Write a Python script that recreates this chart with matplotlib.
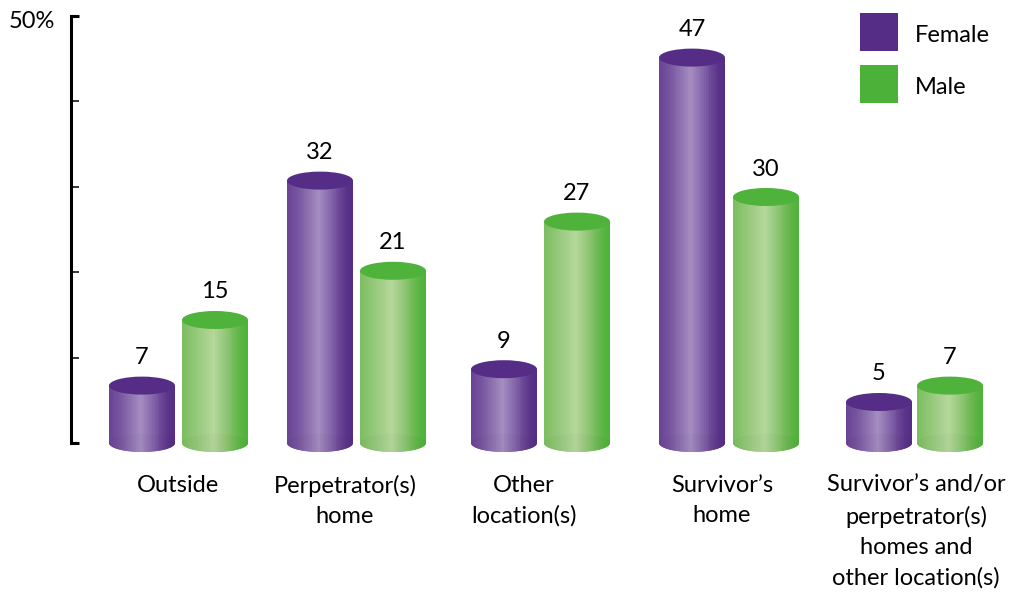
"""Female/male cylinder bars by location."""
import matplotlib
matplotlib.use("Agg")
import matplotlib.pyplot as plt
import numpy as np
from matplotlib.colors import to_rgb
from matplotlib.patches import Ellipse, PathPatch, Rectangle
from matplotlib.path import Path

plt.rcParams["font.family"] = ["Lato", "DejaVu Sans"]

categories = [
    "Outside",
    "Perpetrator(s)\nhome",
    "Other\nlocation(s)",
    "Survivor\u2019s\nhome",
    "Survivor\u2019s and/or\nperpetrator(s)\nhomes and\nother location(s)",
]
female = [7, 32, 9, 47, 5]
male = [15, 21, 27, 30, 7]
series_names = ["Female", "Male"]

# layout, in reference pixels
_W, _H = 1009, 594
_BASE_Y = 443
_PX_PER_UNIT = 8.2
_BAR_W = 66
_ELL_H = 18
_FEMALE_X = [142, 320, 504, 692, 879]
_MALE_X = [215, 393, 577, 766, 950]
_LABEL_X = [178, 345, 524, 722, 916]
_AXIS_TOP = (_BASE_Y - 16) / _PX_PER_UNIT  # axis is not quite in step with the bars

_PURPLE = "#552d86"
_GREEN = "#4fb23a"
_LEGEND_GREEN = "#4bb138"
_STOPS = [0, 0.12, 0.3, 0.48, 0.62, 0.8, 0.92, 1]
_PURPLE_RAMP = ["#6b4496", "#75529d", "#8a6dae", "#a68ec1", "#8c70b0", "#6d4897", "#5a3389", "#552d86"]
_GREEN_RAMP = ["#7dbe60", "#8cc571", "#a0cd86", "#b6d89c", "#9acb80", "#74bb58", "#58b542", "#4fb23a"]


def _py(y):
    """reference pixel row -> data value"""
    return (_BASE_Y - y) / _PX_PER_UNIT


def _ramp(colors, n=34, darken=1.0):
    rgb = np.array([to_rgb(c) for c in colors])
    t = np.linspace(0, 1, n)
    out = np.stack([np.interp(t, _STOPS, rgb[:, i]) for i in range(3)], axis=-1)
    return (out * darken)[np.newaxis, :, :]


def _cylinder(ax, x, value, ramp, top_color):
    left, right = x - _BAR_W / 2, x + _BAR_W / 2
    ell_h = _ELL_H / _PX_PER_UNIT
    # body outline: straight sides, rounded bottom
    theta = np.linspace(np.pi, 2 * np.pi, 40)
    bx = x + _BAR_W / 2 * np.cos(theta)
    by = ell_h / 2 * np.sin(theta)
    verts = np.column_stack([
        np.r_[left, bx, right, left],
        np.r_[value, by, value, value],
    ])
    clip = PathPatch(Path(verts), transform=ax.transData, fc="none", ec="none")
    ax.add_patch(clip)
    im = ax.imshow(_ramp(ramp), extent=(left, right, -ell_h, value), aspect="auto",
                   interpolation="nearest", zorder=2)
    im.set_clip_path(clip)

    # faint base disc seen through the cylinder
    base = Ellipse((x, 0), _BAR_W, ell_h, fc="none", ec="none")
    ax.add_patch(base)
    im2 = ax.imshow(_ramp(ramp, darken=0.975), extent=(left, right, -ell_h, ell_h),
                    aspect="auto", interpolation="nearest", zorder=2.1)
    im2.set_clip_path(base)

    ax.add_patch(Ellipse((x, value), _BAR_W, ell_h, fc=top_color, ec="none", zorder=3))
    ax.annotate(str(value), (x, value), xytext=(0, 28), textcoords="offset pixels",
                ha="center", va="center", fontsize=17, color="black", zorder=4)


def main():
    fig = plt.figure(figsize=(_W / 100, _H / 100), dpi=100)
    ax = fig.add_axes([0, 0, 1, 1])

    for x, v in zip(_FEMALE_X, female):
        _cylinder(ax, x, v, _PURPLE_RAMP, _PURPLE)
    for x, v in zip(_MALE_X, male):
        _cylinder(ax, x, v, _GREEN_RAMP, _GREEN)

    ax.set_xlim(0, _W)
    ax.set_ylim(_py(_H), _py(0))

    # y axis
    for side in ("top", "right", "bottom"):
        ax.spines[side].set_visible(False)
    ax.spines["left"].set_position(("data", 71))
    ax.spines["left"].set_bounds(0, _AXIS_TOP)
    ax.spines["left"].set_linewidth(2.2)
    ax.set_xticks([])
    ticks = np.linspace(0, _AXIS_TOP, 6)
    ax.set_yticks(ticks)
    ax.set_yticklabels([])
    ax.tick_params(axis="y", direction="in", length=6, width=1.1)
    for i in (0, 5):
        ax.yaxis.get_major_ticks()[i].tick1line.set_markeredgewidth(2.2)
    ax.text(32, _py(22), "50%", ha="center", va="center", fontsize=17, color="black")

    # category labels
    for x, label in zip(_LABEL_X, categories):
        ax.text(x, _py(474.5), label, ha="center", va="top", fontsize=17,
                linespacing=1.55, color="black")

    # legend
    for y, name, color in zip((13, 65), series_names, (_PURPLE, _LEGEND_GREEN)):
        ax.add_patch(Rectangle((860, _py(y + 38)), 38, 38 / _PX_PER_UNIT, fc=color, ec="none"))
        ax.text(915, _py(y + 22), name, ha="left", va="center", fontsize=17, color="black")

    fig.savefig("out.png", dpi=100)
    plt.close(fig)


if __name__ == "__main__":
    main()
